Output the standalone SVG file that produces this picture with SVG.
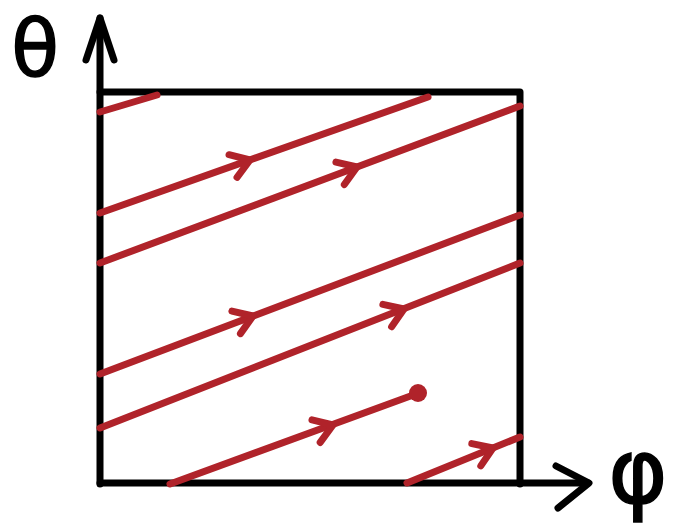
<svg xmlns="http://www.w3.org/2000/svg" width="679" height="531" viewBox="0 0 679 531">
<style>
.ax{fill:none;stroke:#000;stroke-width:7;stroke-linecap:round;stroke-linejoin:round}
.fl{fill:none;stroke:#b0232a;stroke-width:7;stroke-linecap:round;stroke-linejoin:round}
.lbl{font-family:"DejaVu Sans","Liberation Sans",sans-serif;fill:#000;text-anchor:middle;stroke:#000;stroke-width:1.5}
</style>
<defs>
<path id="chev" d="M-18,-12 L0,0 L-18,12" class="fl"/>
</defs>
<rect width="679" height="531" fill="#fff"/>
<g id="axes">
<path class="ax" d="M100,484 L100,18"/>
<path class="ax" d="M86,60 L100,18 L114,60"/>
<path class="ax" d="M100,92 L520,92 L520,484"/>
<path class="ax" d="M100,483 L588,483"/>
<path class="ax" d="M556,466 L589,483 L558,508"/>
</g>
<g id="label-theta"><text class="lbl" x="35" y="76" font-size="78">θ</text></g>
<g id="label-phi"><text class="lbl" x="638" y="503" font-size="90">φ</text></g>
<g id="connectors">
<path class="fl" d="M100,112 L157,95"/>
<path class="fl" d="M100,213 L428,97"/>
<use href="#chev" transform="translate(250,160) rotate(-19.5)"/>
<path class="fl" d="M100,263 L520,106"/>
<use href="#chev" transform="translate(357,167) rotate(-20.5)"/>
<path class="fl" d="M100,374 L520,215"/>
<use href="#chev" transform="translate(253,316) rotate(-20.8)"/>
<path class="fl" d="M100,428 L520,263"/>
<use href="#chev" transform="translate(404,309) rotate(-21.4)"/>
<path class="fl" d="M170,484 L416,394"/>
<circle cx="418" cy="393" r="9" fill="#b0232a"/>
<use href="#chev" transform="translate(333,425) rotate(-20)"/>
<path class="fl" d="M407,483 L520,437"/>
<use href="#chev" transform="translate(493,448) rotate(-22)"/>
</g>
</svg>
